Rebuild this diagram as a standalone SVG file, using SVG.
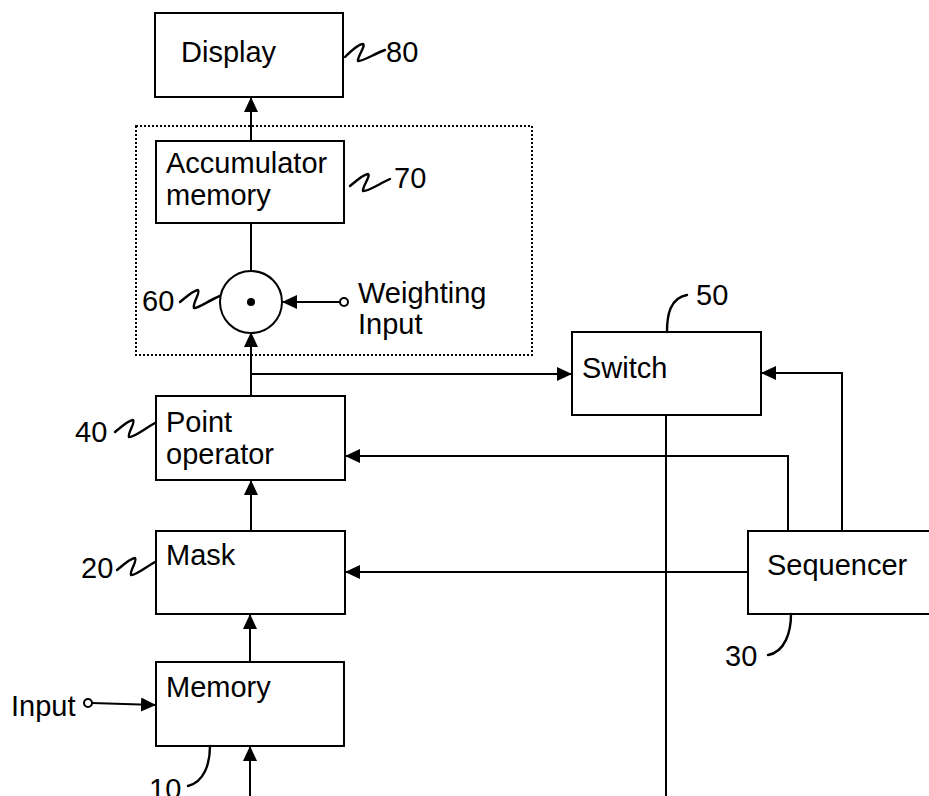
<svg xmlns="http://www.w3.org/2000/svg" width="929" height="796" viewBox="0 0 929 796">
<style>
.box{fill:#fff;stroke:#000;stroke-width:2}
.ln{fill:none;stroke:#000;stroke-width:2}
.lead{fill:none;stroke:#000;stroke-width:2.4;stroke-linecap:round;stroke-linejoin:round}
.t{font-family:"Liberation Sans",Arial,sans-serif;font-size:29px;fill:#000}
.arr{marker-end:url(#ah)}
</style>
<defs>
<marker id="ah" markerUnits="userSpaceOnUse" markerWidth="15" markerHeight="14" refX="15" refY="7" orient="auto">
<path d="M0,0 L15,7 L0,14 z" fill="#000"/>
</marker>
</defs>
<rect width="929" height="796" fill="#fff"/>
<rect id="group70" x="136" y="126" width="396" height="229" fill="none" stroke="#000" stroke-width="2" stroke-dasharray="2 2"/>
<g id="connectors">
<path class="ln arr" d="M251,141 L251,97"/>
<path class="ln" d="M251,223 L251,271"/>
<path class="ln arr" d="M340,302 L282,302"/>
<path class="ln arr" d="M251,396 L251,332"/>
<path class="ln arr" d="M251,374 L572,374"/>
<path class="ln" d="M666,415 L666,796"/>
<path class="ln arr" d="M842,531 L842,373 L761,373"/>
<path class="ln arr" d="M788,531 L788,456 L345,456"/>
<path class="ln arr" d="M748,572 L345,572"/>
<path class="ln arr" d="M251,531 L251,480"/>
<path class="ln arr" d="M250,662 L250,614"/>
<path class="ln arr" d="M92,703 L156,705"/>
<path class="ln arr" d="M250,796 L250,746"/>
</g>
<g id="display">
<rect class="box" x="155" y="13" width="188" height="84"/>
<text class="t" x="181" y="62">Display</text>
<path class="lead" d="M345,57 C351,51 359,44 363,44 C366,46 357,57 358,61 C362,62 374,54 385,50"/>
<text class="t" x="386" y="62">80</text>
</g>
<g id="accumulator">
<rect class="box" x="156" y="141" width="188" height="82"/>
<text class="t" x="166" y="173">Accumulator</text>
<text class="t" x="166" y="205">memory</text>
<path class="lead" d="M350,186 C356,181 364,174 368,174 C371,176 362,187 363,191 C367,192 379,184 390,179"/>
<text class="t" x="394" y="188">70</text>
</g>
<g id="multiplier">
<circle cx="251" cy="302" r="31" fill="#fff" stroke="#000" stroke-width="2"/>
<circle cx="251" cy="302" r="4" fill="#000"/>
<path class="lead" d="M180,302 C186,297 194,290 198,290 C201,292 192,304 194,308 C198,309 209,300 220,296"/>
<text class="t" x="142" y="311">60</text>
</g>
<g id="weighting">
<circle cx="344" cy="302" r="4" fill="#fff" stroke="#000" stroke-width="2"/>
<text class="t" x="358" y="303">Weighting</text>
<text class="t" x="358" y="334">Input</text>
</g>
<g id="switch">
<rect class="box" x="572" y="332" width="189" height="83"/>
<text class="t" x="582" y="378">Switch</text>
<path class="lead" d="M667,332 C667,315 670,298 687,295"/>
<text class="t" x="696" y="305">50</text>
</g>
<g id="point-operator">
<rect class="box" x="156" y="396" width="189" height="84"/>
<text class="t" x="166" y="432">Point</text>
<text class="t" x="166" y="464">operator</text>
<path class="lead" d="M115,432 C121,427 129,420 133,420 C136,422 127,434 129,437 C133,438 144,429 155,423"/>
<text class="t" x="75" y="442">40</text>
</g>
<g id="mask">
<rect class="box" x="156" y="531" width="189" height="83"/>
<text class="t" x="166" y="565">Mask</text>
<path class="lead" d="M117,570 C123,565 131,558 135,558 C138,560 129,572 131,575 C135,576 146,567 155,562"/>
<text class="t" x="81" y="578">20</text>
</g>
<g id="sequencer">
<rect class="box" x="748" y="531" width="186" height="83"/>
<text class="t" x="767" y="575">Sequencer</text>
<path class="lead" d="M791,614 C791,632 785,652 768,655"/>
<text class="t" x="725" y="666">30</text>
</g>
<g id="memory">
<rect class="box" x="156" y="662" width="188" height="84"/>
<text class="t" x="166" y="697">Memory</text>
<path class="lead" d="M210,746 C210,764 204,782 188,786"/>
<text class="t" x="149" y="799">10</text>
</g>
<g id="input">
<circle cx="88" cy="703" r="4" fill="#fff" stroke="#000" stroke-width="2"/>
<text class="t" x="11" y="716">Input</text>
</g>
</svg>
